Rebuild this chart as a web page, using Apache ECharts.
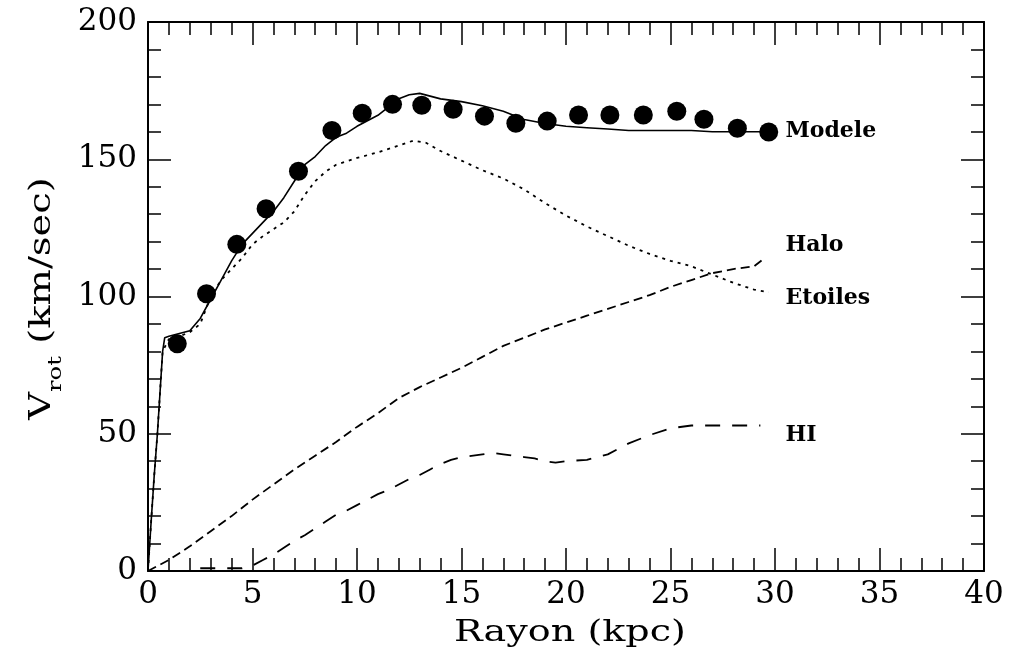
<!DOCTYPE html>
<html>
<head>
<meta charset="utf-8">
<script src="https://cdn.jsdelivr.net/npm/echarts@6/dist/echarts.min.js"></script>
<style>
html,body{margin:0;padding:0;background:#fff;}
#chart{width:1036px;height:656px;}
</style>
</head>
<body>
<div id="chart"></div>
<script>
// Observed rotation curve points
const obsR = [1.4, 2.8, 4.25, 5.65, 7.2, 8.8, 10.25, 11.7, 13.1, 14.6, 16.1, 17.6, 19.1, 20.6, 22.1, 23.7, 25.3, 26.6, 28.2, 29.7];
const obsV = [82.8, 101, 119, 132, 145.6, 160.5, 166.8, 170, 169.7, 168.2, 165.7, 163.1, 163.9, 166.1, 166.1, 166.1, 167.5, 164.6, 161.3, 159.9];

// Model (total)
const modelR = [0, 0.15, 0.3, 0.45, 0.6, 0.7, 0.8, 1, 2, 2.5, 3, 3.5, 4, 4.5, 5, 5.5, 6, 6.5, 7, 7.5, 8, 8.5, 9, 9.5, 10, 10.5, 11, 11.5, 12, 12.5, 13, 13.5, 14, 15, 16, 17, 18, 19, 20, 21, 22, 23, 24, 25, 26, 27, 28, 29, 29.5];
const modelV = [0, 18, 35, 50, 68, 80, 85, 85.5, 87.5, 92, 99, 106, 113, 119, 123, 127, 131, 136, 142, 148, 151, 155, 158, 159.5, 162, 164, 166, 169, 172, 173.5, 174, 173, 172, 171, 169.5, 167.5, 164.5, 163, 162, 161.5, 161, 160.5, 160.5, 160.5, 160.5, 160, 160, 160, 160];

// Etoiles (stars)
const starsR = [0, 0.15, 0.3, 0.45, 0.6, 0.7, 1, 1.5, 2, 2.5, 3, 3.5, 4, 4.5, 5, 5.5, 6, 6.5, 7, 7.5, 8, 8.5, 9, 10, 11, 12, 12.7, 13.3, 14, 15, 16, 17, 18, 19, 20, 21, 22, 23, 24, 25, 26, 27, 28, 29, 29.7];
const starsV = [0, 18, 35, 50, 68, 80, 84.5, 85.5, 87, 90, 100, 106, 110, 114, 119, 122, 124.5, 127, 131, 137, 142, 145.5, 148, 150.5, 152.5, 155, 156.8, 156, 153, 149.5, 146, 143, 139, 134, 129.5, 125.5, 122, 118.5, 115.5, 113, 111, 108, 105, 102.5, 101.5];

// Halo
const haloR = [0, 1, 2, 3, 4, 5, 6, 7, 8, 9, 10, 11, 12, 13, 14, 15, 16, 17, 18, 19, 20, 21, 22, 23, 24, 25, 26, 27, 28, 29, 29.5];
const haloV = [0, 4, 9, 14.5, 20, 26, 31.5, 37, 42, 47, 52.5, 57.5, 63, 67, 70.5, 74, 78, 82, 85, 88, 90.5, 93, 95.5, 98, 100.5, 103.5, 106, 108.5, 110, 111, 114];

// HI gas
const hiR = [2.5, 3, 3.5, 4, 4.5, 5, 5.5, 6, 6.5, 7, 7.5, 8, 8.5, 9, 9.5, 10, 10.5, 11, 11.5, 12, 12.5, 13, 13.5, 14, 14.5, 15, 16, 16.5, 17, 17.5, 18, 18.5, 19, 19.5, 20, 21, 22, 23, 24, 25, 26, 27, 28, 29, 29.3];
const hiV = [1, 1, 1, 1, 1, 2, 4, 6, 8.5, 11, 13, 15.5, 18, 20.5, 22, 24, 26, 28, 29.5, 31.5, 33.5, 35, 37, 39, 40.5, 41.5, 42.5, 43, 42.5, 42, 41.5, 41, 40, 39.5, 40, 40.5, 42.5, 46.5, 49.5, 52, 53, 53, 53, 53, 53];

const xTicks = [0, 40, 5];   // min, max, interval
const yTicks = [0, 200, 50];

const seriesLabels = ['Modele', 'Halo', 'Etoiles', 'HI'];
const xTitle = 'Rayon (kpc)';
const yTitleRich = '{v|V}{s|rot}{v| (km/sec)}';

function pairs(a, b) { return a.map((v, i) => [v, b[i]]); }

const FONT = 'DejaVu Serif';
const chart = echarts.init(document.getElementById('chart'), null, {renderer: 'canvas'});

function xAx(pos, show) {
  return {
    type: 'value', position: pos, min: xTicks[0], max: xTicks[1], interval: xTicks[2],
    axisLine: {show: true, onZero: false, lineStyle: {color: '#000', width: 2}},
    axisTick: {show: true, inside: true, length: 23, lineStyle: {color: '#000', width: 1.5}},
    minorTick: {show: true, splitNumber: 5, length: 13, lineStyle: {color: '#000', width: 1.5}},
    axisLabel: {show: show, fontFamily: FONT, fontSize: 31, color: '#000', margin: 8},
    splitLine: {show: false}, minorSplitLine: {show: false}
  };
}
function yAx(pos, show) {
  return {
    type: 'value', position: pos, min: yTicks[0], max: yTicks[1], interval: yTicks[2],
    axisLine: {show: true, onZero: false, lineStyle: {color: '#000', width: 2}},
    axisTick: {show: true, inside: true, length: 23, lineStyle: {color: '#000', width: 1.5}},
    minorTick: {show: true, splitNumber: 5, length: 13, lineStyle: {color: '#000', width: 1.5}},
    axisLabel: {show: show, fontFamily: FONT, fontSize: 31, color: '#000', margin: 11},
    splitLine: {show: false}, minorSplitLine: {show: false}
  };
}

const option = {
  backgroundColor: '#fff',
  animation: false,
  grid: {left: 148, right: 52, top: 22, bottom: 85, containLabel: false, outerBoundsMode: 'none'},
  xAxis: [xAx('bottom', true), xAx('top', false)],
  yAxis: [yAx('left', true), yAx('right', false)],
  series: [
    {type: 'line', name: 'Modele', data: pairs(modelR, modelV), showSymbol: false, symbol: 'none',
     lineStyle: {color: '#000', width: 1.6}, z: 3},
    {type: 'line', name: 'Etoiles', data: pairs(starsR, starsV), showSymbol: false, symbol: 'none',
     lineStyle: {color: '#000', width: 1.8, type: [3, 5]}, z: 2},
    {type: 'line', name: 'Halo', data: pairs(haloR, haloV), showSymbol: false, symbol: 'none',
     lineStyle: {color: '#000', width: 1.8, type: [9, 5]}, z: 2},
    {type: 'line', name: 'HI', data: pairs(hiR, hiV), showSymbol: false, symbol: 'none',
     lineStyle: {color: '#000', width: 1.8, type: [15, 12]}, z: 2},
    {type: 'scatter', name: 'obs', data: pairs(obsR, obsV), symbol: 'circle', symbolSize: 19,
     itemStyle: {color: '#000', opacity: 1}, z: 4}
  ]
};
chart.setOption(option);

// Curve labels placed at the end of each curve (data coordinates)
const labelAnchors = [[30.5, 160.2], [30.5, 118.6], [30.5, 99.3], [30.5, 49.3]];
const graphics = seriesLabels.map((t, i) => {
  const p = chart.convertToPixel({xAxisIndex: 0, yAxisIndex: 0}, labelAnchors[i]);
  return {type: 'text', x: p[0], y: p[1],
    style: {text: t, font: 'bold 22px "' + FONT + '"', fill: '#000', verticalAlign: 'middle'}};
});
// Axis titles (wide serif lettering, stretched horizontally like the original)
const gridMidX = chart.convertToPixel({xAxisIndex: 0}, (xTicks[0] + xTicks[1]) / 2);
const gridMidY = chart.convertToPixel({yAxisIndex: 0}, (yTicks[0] + yTicks[1]) / 2);
graphics.push({
  type: 'text', x: gridMidX + 4, y: 633, scaleX: 1.27,
  style: {text: xTitle, font: '30px "' + FONT + '"', fill: '#000', align: 'center', verticalAlign: 'middle'}
});
graphics.push({
  type: 'text', x: 40, y: gridMidY + 2, rotation: Math.PI / 2, scaleX: 1.28,
  style: {
    text: yTitleRich, fill: '#000', align: 'center', verticalAlign: 'middle',
    font: '30px "' + FONT + '"',
    rich: {
      v: {fontFamily: FONT, fontSize: 30, fill: '#000', verticalAlign: 'bottom', lineHeight: 34},
      s: {fontFamily: FONT, fontSize: 19, fill: '#000', verticalAlign: 'bottom', lineHeight: 34, padding: [0, 0, -9, 0]}
    }
  }
});
chart.setOption({graphic: graphics});
</script>
</body>
</html>
